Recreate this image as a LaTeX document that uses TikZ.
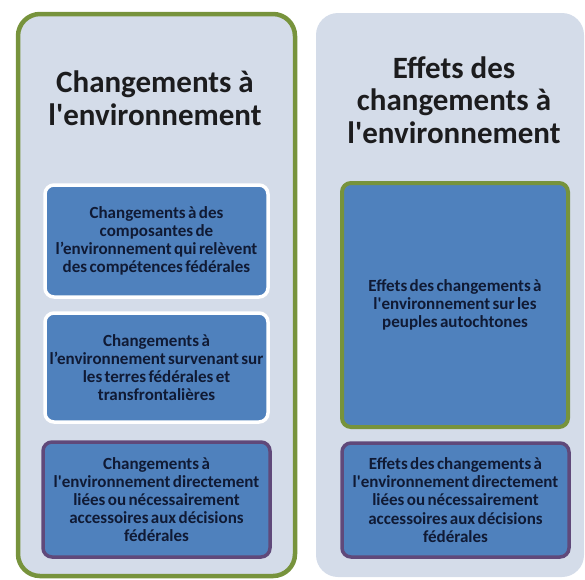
\documentclass[tikz,border=0pt]{standalone}
\usepackage{fontspec}
\setmainfont{Carlito}
\usetikzlibrary{positioning}

\definecolor{panelfill}{RGB}{212,220,233}
\definecolor{boxblue}{RGB}{79,129,189}
\definecolor{olivegreen}{RGB}{119,147,60}
\definecolor{plum}{RGB}{96,73,122}
\definecolor{navytext}{RGB}{16,26,52}
\definecolor{titletext}{RGB}{28,28,30}

\newcommand{\tightwords}{\spaceskip=2.4pt plus 1pt\relax}

\begin{document}
\begin{tikzpicture}[
		x = 1pt, y = -1pt,
		panel/.style = {rounded corners = 22pt, fill = panelfill, inner sep = 0pt},
		box/.style = {rounded corners = 9pt, fill = boxblue, line width = 3.5pt,
			align = center, text = navytext, inner sep = 0pt,
			font = \bfseries\fontsize{17}{18.2}\selectfont\tightwords},
		title/.style = {align = center, text = titletext,
			font = \bfseries\fontsize{31}{32.5}\selectfont}]

	\useasboundingbox (0,0) rectangle (585,579);

	% the two columns
	\node[panel, draw = olivegreen, line width = 4.5pt, minimum width = 277pt, minimum height = 562pt] (leftpanel) at (156.5,295) {};
	\node[panel, minimum width = 268pt, minimum height = 564pt] (rightpanel) at (450,295) {};

	\node[title] (lefttitle) at (155,98) {Changements à\\l\textquotesingle environnement};
	\node[title] (righttitle) at (454,100) {Effets des\\changements à\\l\textquotesingle environnement};

	% left column
	\node[box, draw = white, minimum width = 223pt, minimum height = 112pt] (compfed) at (156.5,241)
		{Changements à des\\composantes de\\l’environnement qui relèvent\\des compétences fédérales};
	\node[box, draw = white, minimum width = 223pt, minimum height = 109pt] (terresfed) at (156.5,367.5)
		{Changements à\\l’environnement survenant sur\\les terres fédérales et\\transfrontalières};
	\node[box, draw = plum, minimum width = 227pt, minimum height = 115pt] (decfed) at (156.5,499.5)
		{Changements à\\l\textquotesingle environnement directement\\liées ou nécessairement\\accessoires aux décisions\\fédérales};

	% right column
	\node[box, draw = olivegreen, line width = 4pt, minimum width = 226pt, minimum height = 244pt] (autoch) at (455,305)
		{Effets des changements à\\l\textquotesingle environnement sur les\\peuples autochtones};
	\node[box, draw = plum, minimum width = 227pt, minimum height = 114pt] (effdec) at (455.5,500)
		{Effets des changements à\\l\textquotesingle environnement directement\\liées ou nécessairement\\accessoires aux décisions\\fédérales};

\end{tikzpicture}
\end{document}
